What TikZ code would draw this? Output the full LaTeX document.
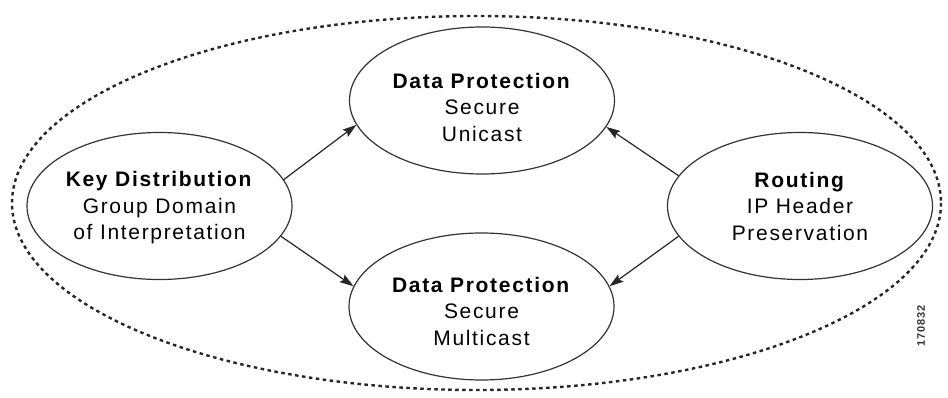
\documentclass[tikz,border=0pt]{standalone}
\usepackage{fontspec}
\setmainfont{Liberation Sans}[LetterSpace=8]
\usetikzlibrary{arrows.meta,shapes.geometric}
\begin{document}
\begin{tikzpicture}[x=1pt,y=-1pt,
  bubble/.style={draw=black!80, line width=1.2pt, ellipse, inner sep=0pt,
    minimum width=265pt, minimum height=147pt, align=center,
    font=\fontsize{21}{26.5}\selectfont},
  link/.style={draw=black!85, line width=1.2pt, -{Stealth[length=14pt,width=9pt,inset=2.5pt]}},
  outer/.style={draw=black!85, line width=2.4pt, dash pattern=on 3.5pt off 3.5pt}]
\useasboundingbox (0,0) rectangle (948,398);
\draw[outer] (476.5,203) ellipse [x radius=464.5, y radius=187];
\node[bubble] (top) at (482,100.5) {\rule{0pt}{29pt}\textbf{Data Protection}\\Secure\\Unicast};
\node[bubble] (bot) at (481.5,306.5) {\rule{0pt}{25pt}\textbf{Data Protection}\\Secure\\Multicast};
\node[bubble] (left) at (159.5,206) {\rule{0pt}{19pt}\textbf{Key Distribution}\\Group Domain\\of Interpretation};
\node[bubble] (right) at (800,206) {\textbf{Routing}\\IP Header\\Preservation};
\draw[link] (left.12.6) -- (top.191.8);
\draw[link] (left.-14.1) -- (bot.171.7);
\draw[link] (right.166.7) -- (top.-12);
\draw[link] (right.194.1) -- (bot.9.5);
\node[rotate=90, font=\bfseries\fontsize{11}{11}\selectfont, text=black!80] (id) at (921,326) {170832};
\end{tikzpicture}
\end{document}
